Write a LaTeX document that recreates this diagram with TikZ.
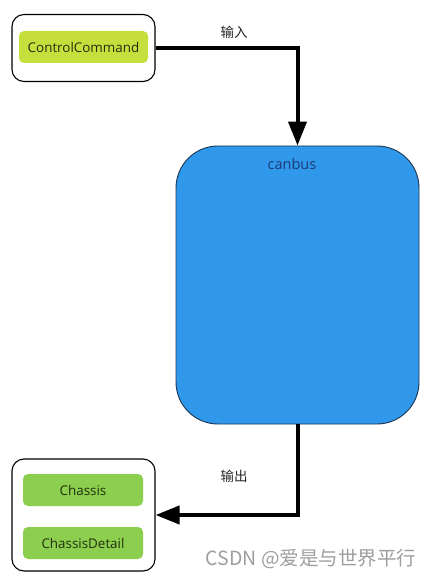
\documentclass[tikz,border=0pt]{standalone}
\usepackage{fontspec}
\setmainfont{Open Sans}
\newfontfamily\cjk{Noto Sans CJK SC}
\usetikzlibrary{arrows.meta}
\usetikzlibrary{positioning}
\definecolor{limegreen}{HTML}{C6DF3C}
\definecolor{leafgreen}{HTML}{8CCF4E}
\definecolor{busblue}{HTML}{2F98EA}
\definecolor{busedge}{HTML}{1B3552}
\definecolor{bustext}{HTML}{1C3C78}
\definecolor{itemtext}{HTML}{22300E}
\tikzset{group/.style = {draw, fill=white, line width=1.1pt, rounded corners=12pt, inner sep=0}}
\tikzset{item/.style = {rounded corners=5pt, inner sep=0, minimum width=120pt, minimum height=32pt, text=itemtext, font=\fontsize{13.4}{15}\selectfont}}
\tikzset{flow/.style = {line width=4pt, -{Triangle[length=24pt, width=18pt]}}}
\tikzset{tag/.style = {font=\cjk\fontsize{13.5}{15}\selectfont, text=black!85}}

\begin{document}
\begin{tikzpicture}[x=1pt, y=-1pt]
      \useasboundingbox (0, 0) rectangle (431, 580);

      \node [group, minimum width=143pt, minimum height=67pt] (inbox) at (83.5, 48) {};
      \node [item, fill=limegreen, minimum width=129pt] (cmd) at (83.5, 47) {ControlCommand};

      \node [draw=busedge, fill=busblue, line width=0.9pt, rounded corners=42pt,
        minimum width=243pt, minimum height=278pt, inner sep=0] (canbus) at (297.5, 285) {};
      \node [text=bustext, font=\fontsize{14.5}{16}\selectfont] (buslabel) at (292, 164) {canbus};

      \node [group, minimum width=143pt, minimum height=112pt] (outbox) at (83.5, 515) {};
      \node [item, fill=leafgreen] (chassis) at (83, 490) {Chassis};
      \node [item, fill=leafgreen] (detail) at (83, 543) {ChassisDetail};

      \draw [flow] (inbox.east) -| (canbus.north);
      \draw [flow] (canbus.south) |- (outbox.east);

      \node [tag] (input) at (234, 32) {输入};
      \node [tag] (output) at (234, 476) {输出};

      \node [font=\cjk\fontsize{19.5}{21}\selectfont, text=black!38] (mark) at (311, 559) {CSDN @爱是与世界平行};
    \end{tikzpicture}
\end{document}
